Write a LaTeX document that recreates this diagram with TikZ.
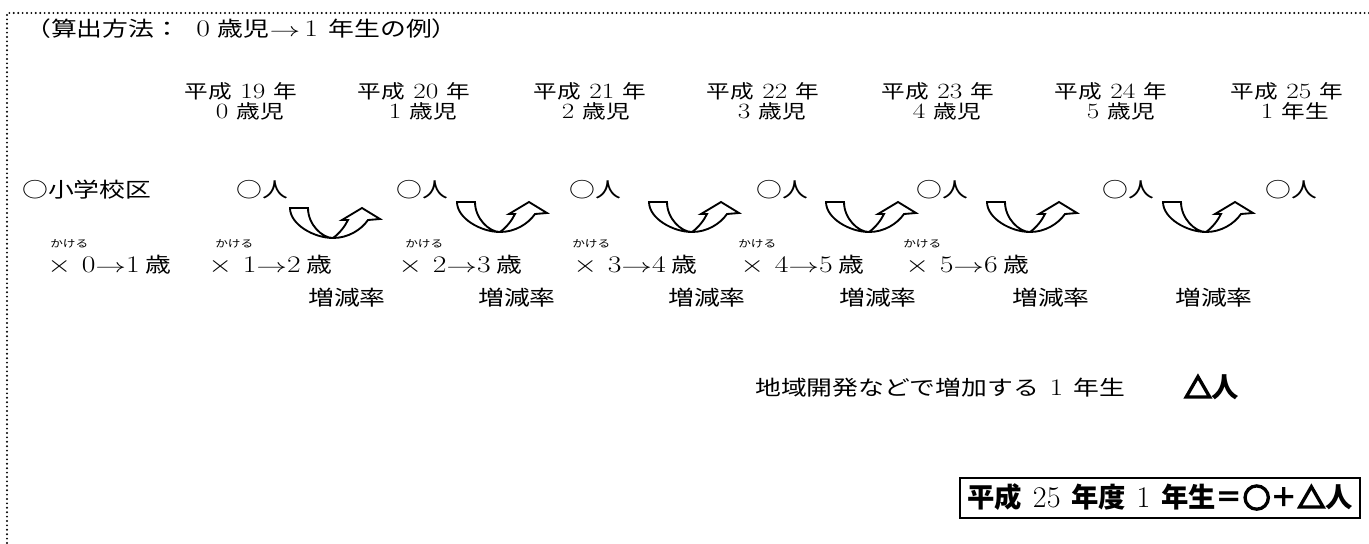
\documentclass[tikz,border=0pt]{standalone}
\usepackage{graphicx}
\usepackage{fontspec}
\newfontfamily\jp{Noto Sans CJK JP}[FakeStretch=1.25]
\newfontfamily\jpb{Noto Sans CJK JP}
\newfontfamily\lms{Latin Modern Roman}[FakeStretch=1.25, Scale=1.15]
\newfontfamily\lmr{Latin Modern Roman}[Scale=1.1]
\newcommand\Dg[1]{{\lms #1}}
\newcommand\Ar{\scalebox{1.6}[1]{$\rightarrow$}}
\newcommand\Tm{\scalebox{1.6}[1.25]{$\times$}}
\newcommand\Sym[1]{\special{pdf:literal direct 2 Tr 1.5 w}#1\special{pdf:literal direct 0 Tr 1 w}}
\begin{document}
\begin{tikzpicture}[x=0.75pt,y=-0.75pt,
  txt/.style={inner sep=0pt, font=\jp\fontsize{15.5}{18}\selectfont, text height=13.4pt, text depth=2.1pt},
  yr/.style={inner sep=0pt, font=\jp\fontsize{14.2}{17}\selectfont, text height=12.3pt, text depth=1.9pt},
  ruby/.style={inner sep=0pt, font=\jp\fontsize{7.6}{9}\selectfont, text height=6.6pt, text depth=1pt},
  boldtxt/.style={inner sep=0pt, font=\jpb\bfseries\fontsize{20.5}{24}\selectfont, text height=17.7pt, text depth=2.8pt},
  dotborder/.style={line width=1.6pt, line cap=round, dash pattern=on 0pt off 3.3pt},
  uarrowline/.style={line width=1.4pt, line join=miter, fill=white},
  uarrow/.pic={
    \draw[uarrowline] (-43,-30) .. controls (-43,-13.5) and (-19,0) .. (0,0)
      .. controls (15,0) and (28,-8) .. (35,-18) -- (47,-19) -- (29,-30) -- (9,-18) -- (15,-18)
      .. controls (12,-12) and (7,-5) .. (0,0)
      .. controls (-11,0) and (-25,-13.5) .. (-25,-30) -- cycle;
  }]
\useasboundingbox (0,0) rectangle (1369,543);
\fill[white] (0,0) rectangle (1369,543);
\draw[dotborder] (7,543) -- (7,13) -- (1369,13);

% title
\node[txt, anchor=west] (title) at (25,29) {（算出方法：\hspace{12pt}\Dg{0}\hspace{6pt}歳児\Ar\hspace{3pt}\Dg{1}\hspace{8pt}年生の例）};

% years
\node[yr] (y19) at (241,92) {平成\Dg{\ 19\ }年};
\node[yr] (y20) at (414,92) {平成\Dg{\ 20\ }年};
\node[yr] (y21) at (590,92) {平成\Dg{\ 21\ }年};
\node[yr] (y22) at (763,92) {平成\Dg{\ 22\ }年};
\node[yr] (y23) at (938,92) {平成\Dg{\ 23\ }年};
\node[yr] (y24) at (1111,92) {平成\Dg{\ 24\ }年};
\node[yr] (y25) at (1287,92) {平成\Dg{\ 25\ }年};

% ages
\node[yr] (a0) at (250,112) {\Dg{0\ }歳児};
\node[yr] (a1) at (423,112) {\Dg{1\ }歳児};
\node[yr] (a2) at (596,112) {\Dg{2\ }歳児};
\node[yr] (a3) at (772,112) {\Dg{3\ }歳児};
\node[yr] (a4) at (947,112) {\Dg{4\ }歳児};
\node[yr] (a5) at (1121,112) {\Dg{5\ }歳児};
\node[yr] (a6) at (1295,112) {\Dg{1\ }年生};

% school and counts
\node[txt, anchor=west] (school) at (22,190) {○小学校区};
\node[txt] (p1) at (262,190) {○人};
\node[txt] (p2) at (422,190) {○人};
\node[txt] (p3) at (595,190) {○人};
\node[txt] (p4) at (782,190) {○人};
\node[txt] (p5) at (942,190) {○人};
\node[txt] (p6) at (1128,190) {○人};
\node[txt] (p7) at (1291,190) {○人};

% U-turn arrows
\pic at (333,238) {uarrow};
\pic at (500,232) {uarrow};
\pic at (692,232) {uarrow};
\pic at (869,232) {uarrow};
\pic at (1030,232) {uarrow};
\pic at (1206,232) {uarrow};

% ruby
\node[ruby, anchor=west] (k1) at (50,244) {かける};
\node[ruby, anchor=west] (k2) at (215,244) {かける};
\node[ruby, anchor=west] (k3) at (405,244) {かける};
\node[ruby, anchor=west] (k4) at (572,244) {かける};
\node[ruby, anchor=west] (k5) at (738,244) {かける};
\node[ruby, anchor=west] (k6) at (903,244) {かける};

% multipliers
\node[txt, anchor=west] (m1) at (47,265) {\Tm\hspace{8pt}\Dg{0}\Ar\Dg{1}\hspace{4pt}歳};
\node[txt, anchor=west] (m2) at (208,265) {\Tm\hspace{8pt}\Dg{1}\Ar\Dg{2}\hspace{4pt}歳};
\node[txt, anchor=west] (m3) at (398,265) {\Tm\hspace{8pt}\Dg{2}\Ar\Dg{3}\hspace{4pt}歳};
\node[txt, anchor=west] (m4) at (573,265) {\Tm\hspace{8pt}\Dg{3}\Ar\Dg{4}\hspace{4pt}歳};
\node[txt, anchor=west] (m5) at (740,265) {\Tm\hspace{8pt}\Dg{4}\Ar\Dg{5}\hspace{4pt}歳};
\node[txt, anchor=west] (m6) at (905,265) {\Tm\hspace{8pt}\Dg{5}\Ar\Dg{6}\hspace{4pt}歳};

% rates
\node[txt] (r1) at (347,298) {増減率};
\node[txt] (r2) at (517,298) {増減率};
\node[txt] (r3) at (707,298) {増減率};
\node[txt] (r4) at (878,298) {増減率};
\node[txt] (r5) at (1051,298) {増減率};
\node[txt] (r6) at (1214,298) {増減率};

% development
\node[txt, anchor=west] (dev) at (755,388) {地域開発などで増加する\hspace{8pt}\Dg{1}\hspace{8pt}年生};
\node[boldtxt, anchor=west] (delta) at (1184,388) {\Sym{△}人};

% formula
\node[boldtxt, draw, line width=1.5pt, minimum width=300pt, minimum height=30pt] (formula) at (1160,498)
  {平成\hspace{8pt}{\lmr\mdseries 25}\hspace{8pt}年度\hspace{8pt}{\lmr\mdseries 1}\hspace{8pt}年生＝\Sym{○}＋\Sym{△}人};
\end{tikzpicture}
\end{document}
